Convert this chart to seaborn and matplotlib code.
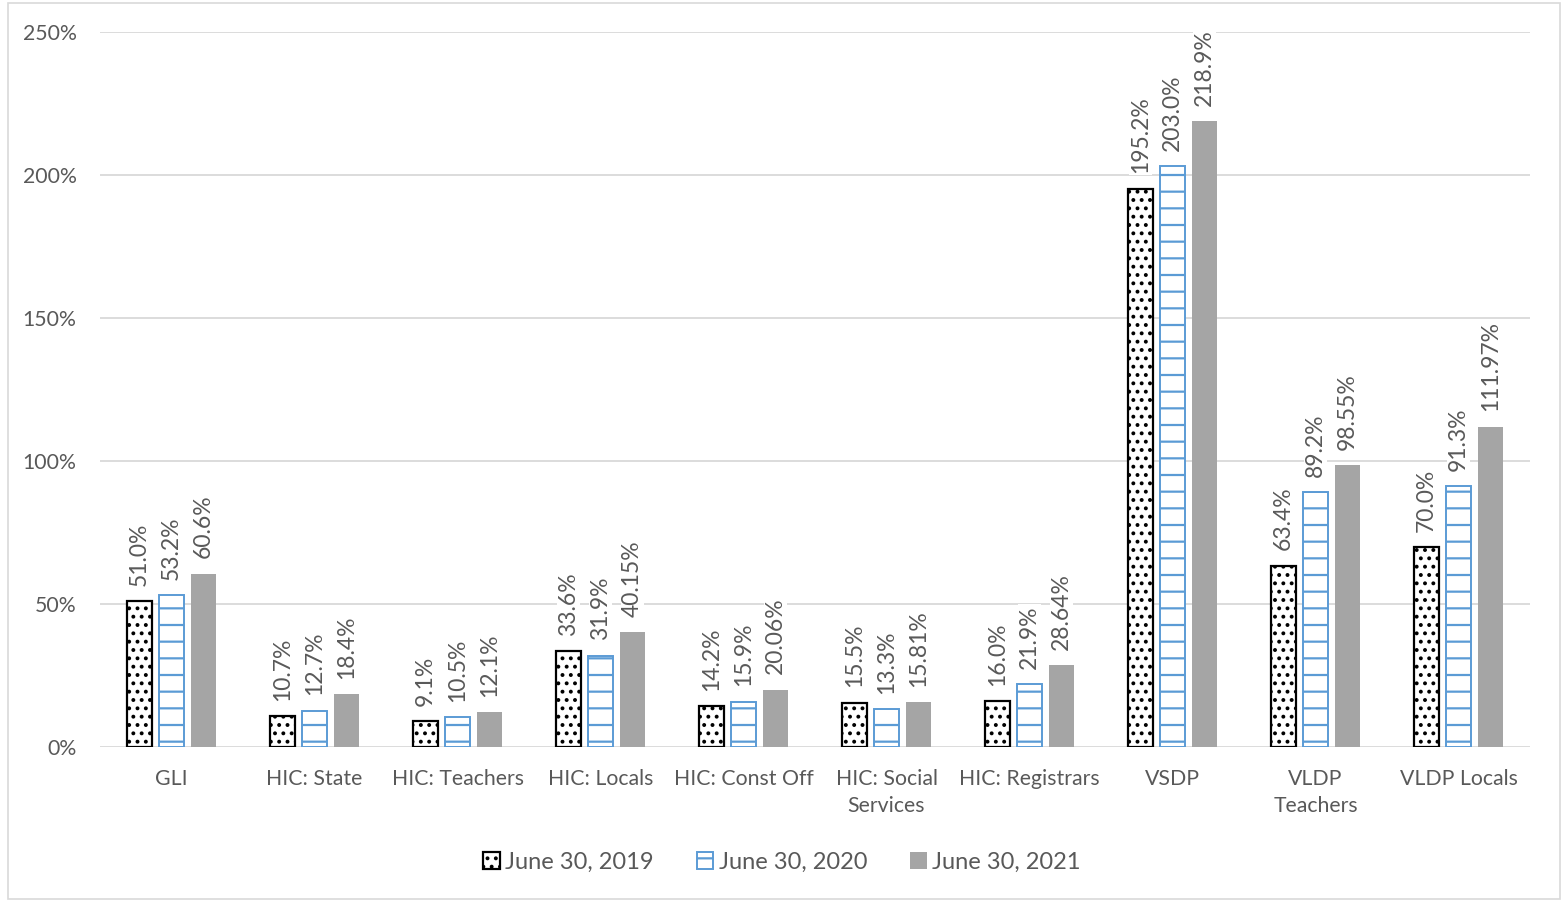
import matplotlib
matplotlib.use("Agg")
import matplotlib.pyplot as plt
import seaborn as sns
import pandas as pd
from matplotlib.patches import Patch, Rectangle
from matplotlib.ticker import FuncFormatter

categories = ["GLI", "HIC: State", "HIC: Teachers", "HIC: Locals", "HIC: Const Off",
              "HIC: Social\nServices", "HIC: Registrars", "VSDP", "VLDP\nTeachers", "VLDP Locals"]
series = ["June 30, 2019", "June 30, 2020", "June 30, 2021"]
v2019 = [51.0, 10.7, 9.1, 33.6, 14.2, 15.5, 16.0, 195.2, 63.4, 70.0]
v2020 = [53.2, 12.7, 10.5, 31.9, 15.9, 13.3, 21.9, 203.0, 89.2, 91.3]
v2021 = [60.6, 18.4, 12.1, 40.15, 20.06, 15.81, 28.64, 218.9, 98.55, 111.97]
lab2019 = ["51.0%", "10.7%", "9.1%", "33.6%", "14.2%", "15.5%", "16.0%", "195.2%", "63.4%", "70.0%"]
lab2020 = ["53.2%", "12.7%", "10.5%", "31.9%", "15.9%", "13.3%", "21.9%", "203.0%", "89.2%", "91.3%"]
lab2021 = ["60.6%", "18.4%", "12.1%", "40.15%", "20.06%", "15.81%", "28.64%", "218.9%", "98.55%", "111.97%"]
yticks = [0, 50, 100, 150, 200, 250]

sns.set_style("white")
plt.rcParams['font.family'] = ['Lato', 'DejaVu Sans']
plt.rcParams['hatch.linewidth'] = 1.6

TXT = "#595959"
BLUE = "#5B9BD5"
GRAY = "#A5A5A5"

rows = []
for s, vals in zip(series, [v2019, v2020, v2021]):
    for c, v in zip(categories, vals):
        rows.append({"category": c, "series": s, "value": v})
df = pd.DataFrame(rows)

fig = plt.figure(figsize=(15.64, 9.02), dpi=100)
ax = fig.add_axes([100/1564, 1-747/902, (1530-100)/1564, (747-32)/902])

sns.barplot(data=df, x="category", y="value", hue="series", order=categories,
            hue_order=series, palette=["white", "white", GRAY], saturation=1,
            width=0.67, gap=0.2, legend=False, ax=ax, zorder=3)

styles = [
    dict(facecolor="white", edgecolor="black", hatch="..", linewidth=1.6),
    dict(facecolor="white", edgecolor=BLUE, hatch="-", linewidth=1.4),
    dict(facecolor=GRAY, edgecolor="none", hatch=None, linewidth=0),
]
labels_all = [lab2019, lab2020, lab2021]
for cont, st, labs in zip(ax.containers, styles, labels_all):
    for bar, lbl in zip(cont, labs):
        bar.set_facecolor(st["facecolor"])
        bar.set_edgecolor(st["edgecolor"])
        bar.set_linewidth(st["linewidth"])
        if st["hatch"]:
            bar.set_hatch(st["hatch"])
        ax.annotate(lbl, (bar.get_x() + bar.get_width()/2, bar.get_height()),
                    xytext=(0, 11), textcoords="offset points", rotation=90,
                    ha="center", va="bottom", fontsize=16.5, color=TXT, zorder=4,
                    bbox=dict(fc="white", ec="none", pad=1))

ax.set_ylim(0, 250)
ax.set_xlim(-0.5, len(categories) - 0.5)
ax.set_yticks(yticks)
ax.yaxis.set_major_formatter(FuncFormatter(lambda v, p: f"{int(v)}%"))
ax.yaxis.grid(True, color="#D9D9D9", linewidth=1.3, zorder=0)
ax.set_axisbelow(True)
for sp in ax.spines.values():
    sp.set_visible(False)
ax.tick_params(axis="both", length=0, colors=TXT, labelsize=15.3)
ax.tick_params(axis="y", pad=17)
ax.tick_params(axis="x", pad=16)
for t in ax.get_xticklabels():
    t.set_linespacing(1.45)
ax.set_xlabel("")
ax.set_ylabel("")

handles = [Patch(facecolor="white", edgecolor="black", hatch="..", linewidth=1.6),
           Patch(facecolor="white", edgecolor=BLUE, hatch="-", linewidth=1.4),
           Patch(facecolor=GRAY, edgecolor="none")]
leg = fig.legend(handles, series, loc="center", bbox_to_anchor=(0.5, 1-862/902), ncol=3,
                 frameon=False, handlelength=0.7, handleheight=0.7, handletextpad=0.25,
                 columnspacing=1.8, fontsize=17)
for t in leg.get_texts():
    t.set_color(TXT)

fig.patches.append(Rectangle((8/1564, 3/902), (1560-8)/1564, (899-3)/902,
                             transform=fig.transFigure, fill=False,
                             edgecolor="#D9D9D9", linewidth=1.2))

fig.savefig("out.png", dpi=100)
